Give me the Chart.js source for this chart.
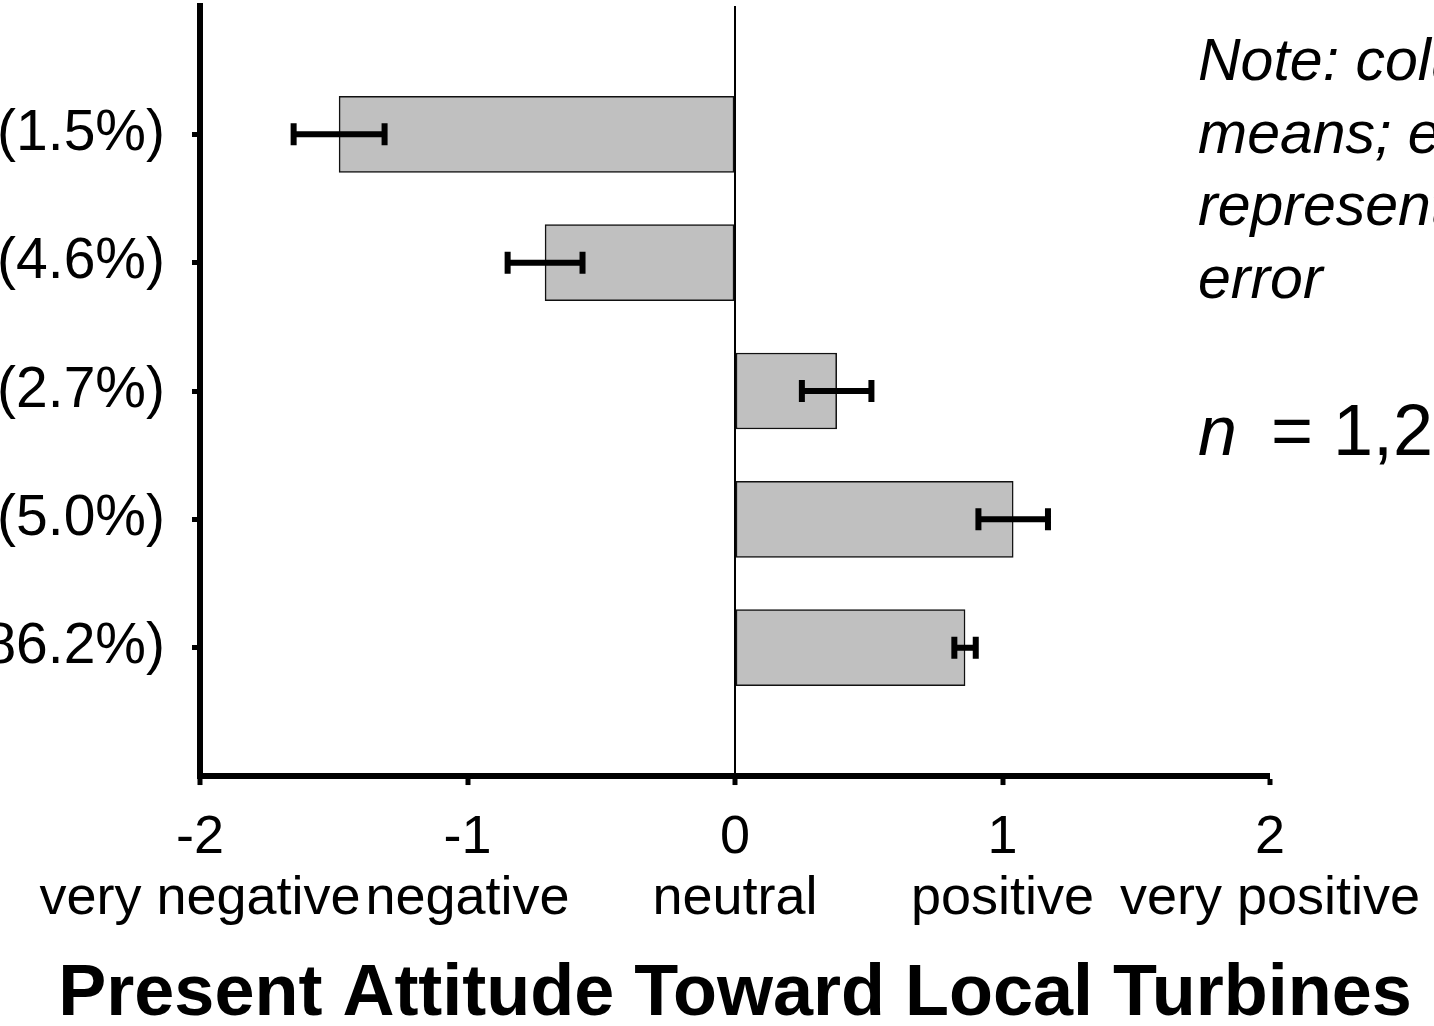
<!DOCTYPE html>
<html>
<head>
<meta charset="utf-8">
<script src="https://cdn.jsdelivr.net/npm/chart.js@4.4.1/dist/chart.umd.min.js"></script>
<style>
html, body { margin: 0; padding: 0; background: #fff; overflow: hidden; }
#wrap { width: 1434px; height: 1026px; position: relative; }
</style>
</head>
<body>
<div id="wrap"><canvas id="attitudeChart"></canvas></div>
<script>
// groups (share of respondents) and mean attitude with standard error
const groups = ['(1.5%)', '(4.6%)', '(2.7%)', '(5.0%)', '(86.2%)'];
const means = [-1.48, -0.71, 0.38, 1.04, 0.86];
const stdErrors = [0.17, 0.14, 0.13, 0.13, 0.04];
const tickValues = [-2, -1, 0, 1, 2];
const tickWords = ['very negative', 'negative', 'neutral', 'positive', 'very positive'];
const axisTitle = 'Present Attitude Toward Local Turbines';
const noteLines = ['Note: columns are', 'means; error bars', 'represent standard', 'error'];

const FONT = '"Liberation Sans", Arial, sans-serif';

// empty slot above and below so the bars sit one step in from each end
const yLabels = [''].concat(groups, ['']);
const barData = [null].concat(means, [null]);

const errorBars = {
    id: 'errorBars',
    afterDatasetsDraw(chart) {
        const ctx = chart.ctx;
        const x = chart.scales.x;
        const meta = chart.getDatasetMeta(0);
        ctx.save();
        ctx.strokeStyle = '#000';
        ctx.lineWidth = 6;
        means.forEach((m, i) => {
            const y = meta.data[i + 1].y;
            const x1 = x.getPixelForValue(m - stdErrors[i]);
            const x2 = x.getPixelForValue(m + stdErrors[i]);
            ctx.beginPath();
            ctx.moveTo(x1, y); ctx.lineTo(x2, y);
            ctx.moveTo(x1, y - 11); ctx.lineTo(x1, y + 11);
            ctx.moveTo(x2, y - 11); ctx.lineTo(x2, y + 11);
            ctx.stroke();
        });
        ctx.restore();
    }
};

// axis title and note are drawn by hand: they run wider than the plot area
const extraText = {
    id: 'extraText',
    afterDraw(chart) {
        const ctx = chart.ctx;
        const area = chart.chartArea;
        ctx.save();
        ctx.fillStyle = '#000';
        ctx.textBaseline = 'alphabetic';

        ctx.textAlign = 'center';
        ctx.font = 'bold 72px ' + FONT;
        ctx.fillText(axisTitle, (area.left + area.right) / 2, 1015);

        ctx.textAlign = 'left';
        ctx.font = 'italic 59px ' + FONT;
        noteLines.forEach((line, i) => {
            ctx.fillText(line, 1198, 80 + i * 72.5);
        });
        ctx.font = 'italic 70px ' + FONT;
        ctx.fillText('n', 1198, 455);
        const w = ctx.measureText('n').width;
        ctx.font = '72px ' + FONT;
        ctx.fillText(' = 1,2', 1198 + w + 14, 455);
        ctx.restore();
    }
};

const data = {
    labels: yLabels,
    datasets: [{
        data: barData,
        backgroundColor: '#c0c0c0',
        borderColor: '#111',
        borderWidth: 1.5,
        borderSkipped: false,
        barThickness: 76
    }]
};

const config = {
    type: 'bar',
    data: data,
    options: {
        indexAxis: 'y',
        responsive: true,
        maintainAspectRatio: false,
        animation: false,
        layout: {
            padding: { top: 6, right: 164, bottom: 74, left: 0 }
        },
        scales: {
            x: {
                type: 'linear',
                min: -2,
                max: 2,
                afterBuildTicks: (scale) => {
                    scale.ticks = tickValues.map(v => ({ value: v }));
                },
                afterFit: (scale) => {
                    scale.paddingLeft = 0;
                    scale.paddingRight = 0;
                },
                ticks: {
                    color: '#000',
                    font: { family: FONT, size: 54, lineHeight: 1.12 },
                    padding: 23,
                    maxRotation: 0,
                    autoSkip: false,
                    callback: (v) => {
                        const i = tickValues.indexOf(v);
                        return [String(v), tickWords[i]];
                    }
                },
                grid: {
                    drawOnChartArea: true,
                    color: '#000',
                    lineWidth: (c) => (c.tick && c.tick.value === 0 ? 2 : 0),
                    tickColor: '#000',
                    tickWidth: 5,
                    tickLength: 9
                },
                border: { color: '#000', width: 6 }
            },
            y: {
                type: 'category',
                offset: false,
                afterFit: (scale) => {
                    scale.width = 200;
                    scale.paddingTop = 0;
                    scale.paddingBottom = 0;
                },
                ticks: {
                    color: '#000',
                    font: { family: FONT, size: 57 },
                    padding: 27,
                    autoSkip: false,
                    callback: function (v, i) {
                        return (i === 0 || i === yLabels.length - 1) ? null : this.getLabelForValue(v);
                    }
                },
                grid: {
                    offset: false,
                    drawOnChartArea: false,
                    tickColor: '#000',
                    tickWidth: 5,
                    tickLength: 8
                },
                border: { color: '#000', width: 6 }
            }
        },
        plugins: {
            legend: { display: false },
            tooltip: { enabled: false }
        }
    },
    plugins: [errorBars, extraText]
};

const ctx = document.getElementById('attitudeChart').getContext('2d');
const attitudeChart = new Chart(ctx, config);
</script>
</body>
</html>
